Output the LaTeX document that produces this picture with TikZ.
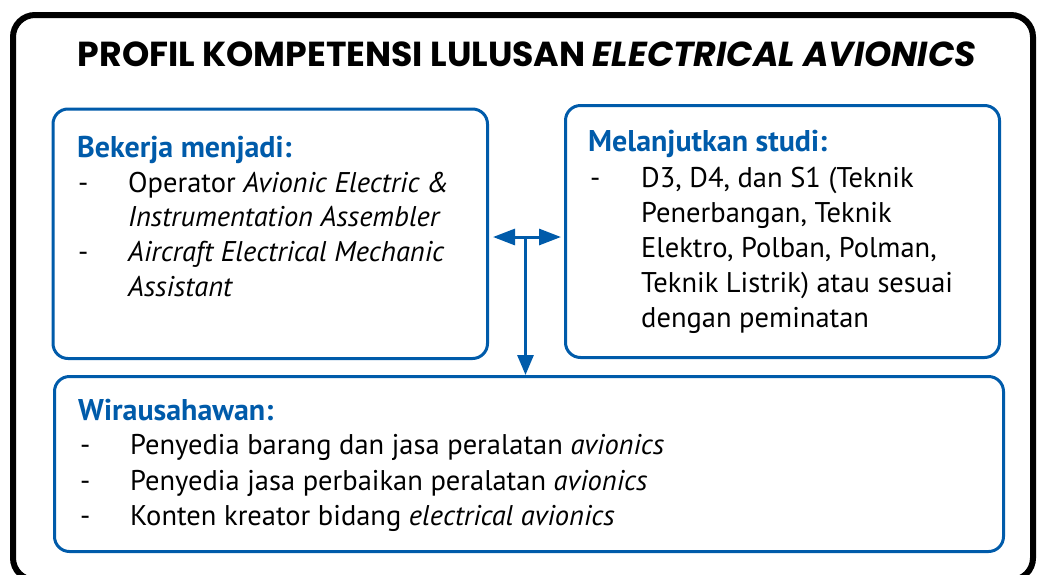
\documentclass[tikz,border=0pt]{standalone}
\usepackage{fontspec}
\setmainfont{PT Sans}
\newfontfamily\titlefont{Poppins}
\usetikzlibrary{arrows.meta}
\definecolor{profblue}{HTML}{005BAA}

\tikzset{
  panel/.style={draw=profblue, line width=3pt, rounded corners=15pt, inner sep=0pt, anchor=north west},
  head/.style={anchor=base west, inner sep=0pt, text=profblue, font=\fontsize{30}{34}\selectfont\bfseries},
  txt/.style={anchor=base west, inner sep=0pt, font=\fontsize{28.5}{32}\selectfont},
  link/.style={draw=profblue, line width=3pt, -{Triangle[length=20pt,width=16pt]}},
}

\begin{document}
\begin{tikzpicture}[x=1pt, y=-1pt]
    \useasboundingbox (0,0) rectangle (1039,574);
    \draw[line width=6pt, rounded corners=22pt] (13,15) rectangle (1033,580);
    \node[anchor=base, inner sep=0pt, font=\titlefont\fontsize{34.7}{40}\selectfont\bfseries] (title) at (527,66)
        {PROFIL KOMPETENSI LULUSAN \textit{ELECTRICAL AVIONICS}};

    % the three panels
    \node[panel, minimum width=434.5pt, minimum height=249.5pt] (work)  at (51.5,107.5) {};
    \node[panel, minimum width=434pt,   minimum height=252pt]   (study) at (564,104)    {};
    \node[panel, minimum width=949pt,   minimum height=175pt]   (wira)  at (53,375)     {};

    % Bekerja menjadi
    \node[head] (workhead) at (77,157) {Bekerja menjadi:};
    \node[txt] (workd1) at (78,192) {-};
    \node[txt] (work1)  at (128,192) {Operator \textit{Avionic Electric \&}};
    \node[txt] (work2)  at (128,226) {\textit{Instrumentation Assembler}};
    \node[txt] (workd2) at (78,261) {-};
    \node[txt] (work3)  at (128,261) {\textit{Aircraft Electrical Mechanic}};
    \node[txt] (work4)  at (128,296) {\textit{Assistant}};

    % Melanjutkan studi
    \node[head] (studyhead) at (588,151) {Melanjutkan studi:};
    \node[txt] (studyd1) at (590,187) {-};
    \node[txt] (study1)  at (641,187) {D3, D4, dan S1 (Teknik};
    \node[txt] (study2)  at (641,222) {Penerbangan, Teknik};
    \node[txt] (study3)  at (641,257) {Elektro, Polban, Polman,};
    \node[txt] (study4)  at (641,292) {Teknik Listrik) atau sesuai};
    \node[txt] (study5)  at (641,327) {dengan peminatan};

    % Wirausahawan
    \node[head] (wirahead) at (78,420) {Wirausahawan:};
    \node[txt] (wirad1) at (80,454) {-};
    \node[txt] (wira1)  at (130,454) {Penyedia barang dan jasa peralatan \textit{avionics}};
    \node[txt] (wirad2) at (80,490) {-};
    \node[txt] (wira2)  at (130,490) {Penyedia jasa perbaikan peralatan \textit{avionics}};
    \node[txt] (wirad3) at (80,525) {-};
    \node[txt] (wira3)  at (130,525) {Konten kreator bidang \textit{electrical avionics}};

    % arrows between the panels
    \coordinate (mid) at (525.5,237);
    \draw[link, {Triangle[length=22pt,width=16pt]}-{Triangle[length=22pt,width=16pt]},
        shorten <=4pt, shorten >=3pt] (work.east |- mid) -- (study.west |- mid);
    \draw[link] (mid) -- (mid |- wira.north);
\end{tikzpicture}
\end{document}
